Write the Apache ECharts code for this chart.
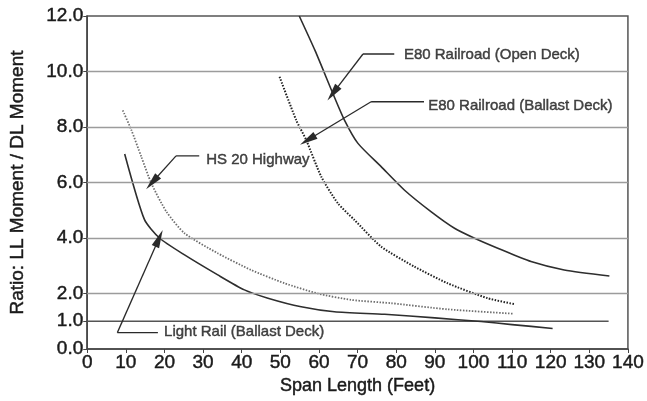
<!DOCTYPE html>
<html>
<head>
<meta charset="utf-8">
<script src="https://cdn.jsdelivr.net/npm/echarts@6/dist/echarts.min.js"></script>
<style>
html,body{margin:0;padding:0;background:#fff;}
#chart{width:647px;height:401px;}
</style>
</head>
<body>
<div id="chart"></div>
<script>
// ---- data ----
const xTicks = [0,10,20,30,40,50,60,70,80,90,100,110,120,130,140];
const yTickLabels = [0,1,2,4,6,8,10,12];
const gridValues = [2,4,6,8,10];

const lightRailX = [9.7, 14.8, 18.7, 25.2, 33.8, 40.7, 46.8, 55.4, 64, 77, 90, 102, 110, 120.5];
const lightRailY = [7.03, 4.67, 4.0, 3.39, 2.67, 2.13, 1.83, 1.52, 1.34, 1.25, 1.12, 0.99, 0.88, 0.74];

const hs20X = [9.2, 11.4, 14, 16.6, 20.5, 25.2, 33.8, 42.4, 51.1, 59.7, 68.3, 78.7, 93.3, 110.5];
const hs20Y = [8.6, 7.9, 6.93, 5.97, 4.95, 4.17, 3.45, 2.85, 2.37, 2.0, 1.77, 1.65, 1.43, 1.27];

const e80BallastX = [49.8, 54.1, 56.7, 60.6, 64.9, 69.2, 76.1, 84.7, 93.3, 103.7, 110.5];
const e80BallastY = [9.81, 8.25, 7.53, 6.21, 5.25, 4.65, 3.69, 2.97, 2.37, 1.83, 1.62];

const e80OpenX = [54.9, 59.0, 63.6, 66.6, 70.1, 76.1, 82.1, 89, 95.1, 100.3, 106.3, 114.9, 123.5, 135.2];
const e80OpenY = [12, 10.75, 9.21, 8.25, 7.41, 6.57, 5.73, 4.95, 4.35, 3.99, 3.63, 3.15, 2.85, 2.63];

const unityLineX = [0, 135];
const unityLineY = [1, 1];

// annotations: label text, text anchor, leader start, bend, arrow tip (data units)
const annLabels = ['E80 Railroad (Open Deck)', 'E80 Railroad (Ballast Deck)', 'HS 20 Highway', 'Light Rail (Ballast Deck)'];
const annText = [[82.0, 10.59], [88.3, 8.76], [30.8, 6.83], [19.9, 0.62]];
const annLeadStart = [[79.5, 10.63], [87.2, 8.91], [29.0, 6.96], [18.3, 0.59]];
const annBend = [[71.4, 10.63], [73.5, 8.91], [23.0, 6.96], [7.8, 0.59]];
const annTip = [[63.6, 9.21], [57.1, 7.53], [16.8, 6.0], [18.6, 3.99]];

const zip = (xs, ys) => xs.map((x, i) => [x, ys[i]]);

const FONT = '"Liberation Sans", Arial, Helvetica, sans-serif';
const ink = '#1a1a1a';
const txt = (size) => ({fontFamily: FONT, fontSize: size, color: ink, textBorderColor: ink, textBorderWidth: 0.45});

const series = [];
// gridlines via markLine
series.push({
  type: 'line', data: [], silent: true,
  markLine: {
    silent: true, symbol: 'none', label: {show: false},
    lineStyle: {color: '#9c9c9c', width: 1.4, type: 'solid'},
    data: gridValues.map(v => ({yAxis: v}))
  }
});
series.push({
  name: 'Ratio 1.0', type: 'line', data: zip(unityLineX, unityLineY), symbol: 'none',
  lineStyle: {color: '#555', width: 1.7}, silent: true, z: 3
});
const curveStyle = {symbol: 'none', smooth: 0.22, z: 4};
series.push(Object.assign({
  name: 'Light Rail (Ballast Deck)', type: 'line', data: zip(lightRailX, lightRailY),
  lineStyle: {color: '#2e2e2e', width: 1.6}
}, curveStyle));
series.push(Object.assign({
  name: 'HS 20 Highway', type: 'line', data: zip(hs20X, hs20Y),
  lineStyle: {color: '#6e6e6e', width: 1.8, type: [1.5, 1.5]}
}, curveStyle));
series.push(Object.assign({
  name: 'E80 Railroad (Ballast Deck)', type: 'line', data: zip(e80BallastX, e80BallastY),
  lineStyle: {color: '#222', width: 2, type: [1.5, 1.5]}
}, curveStyle));
series.push(Object.assign({
  name: 'E80 Railroad (Open Deck)', type: 'line', data: zip(e80OpenX, e80OpenY),
  lineStyle: {color: '#2e2e2e', width: 1.6}
}, curveStyle));
// annotation leaders
annLabels.forEach((t, i) => {
  series.push({
    type: 'line', data: [annLeadStart[i], annBend[i]], symbol: 'none', silent: true,
    lineStyle: {color: '#2a2a2a', width: 1.3}, z: 5,
    markLine: {
      silent: true, label: {show: false},
      symbol: ['none', 'triangle'], symbolSize: [8, 18],
      lineStyle: {color: '#2a2a2a', width: 1.3, type: 'solid'},
      itemStyle: {color: '#1a1a1a'},
      data: [[{coord: annBend[i]}, {coord: annTip[i]}]]
    }
  });
});
// annotation texts
series.push({
  type: 'scatter', symbolSize: 0, silent: true, z: 6,
  data: annText.map((p, i) => ({value: p, name: annLabels[i]})),
  label: Object.assign({show: true, position: 'right', distance: 0, formatter: p => p.name}, txt(15))
});

const chart = echarts.init(document.getElementById('chart'), null, {renderer: 'canvas'});
chart.setOption({
  backgroundColor: '#fff',
  animation: false,
  grid: {left: 86, right: 19, top: 16, bottom: 52, show: true, borderColor: '#555', borderWidth: 1.5, backgroundColor: 'transparent'},
  xAxis: {
    type: 'value', min: 0, max: 140, interval: 10,
    name: 'Span Length (Feet)', nameLocation: 'middle', nameGap: 24,
    nameTextStyle: txt(18),
    axisLine: {show: true, lineStyle: {color: '#444', width: 1.5}},
    axisTick: {show: true, length: 4, lineStyle: {color: '#444'}},
    axisLabel: Object.assign({margin: 4}, txt(19)),
    splitLine: {show: false}
  },
  yAxis: {
    type: 'value', min: 0, max: 12, interval: 2,
    name: 'Ratio: LL Moment / DL Moment', nameLocation: 'middle', nameGap: 60,
    nameTextStyle: txt(19),
    axisLine: {show: true, lineStyle: {color: '#444', width: 1.5}},
    axisTick: {show: true, length: 4, customValues: yTickLabels, lineStyle: {color: '#444'}},
    axisLabel: Object.assign({margin: 4, customValues: yTickLabels, formatter: v => Number(v).toFixed(1)}, txt(19)),
    splitLine: {show: false}
  },
  series: series
});
</script>
</body>
</html>
